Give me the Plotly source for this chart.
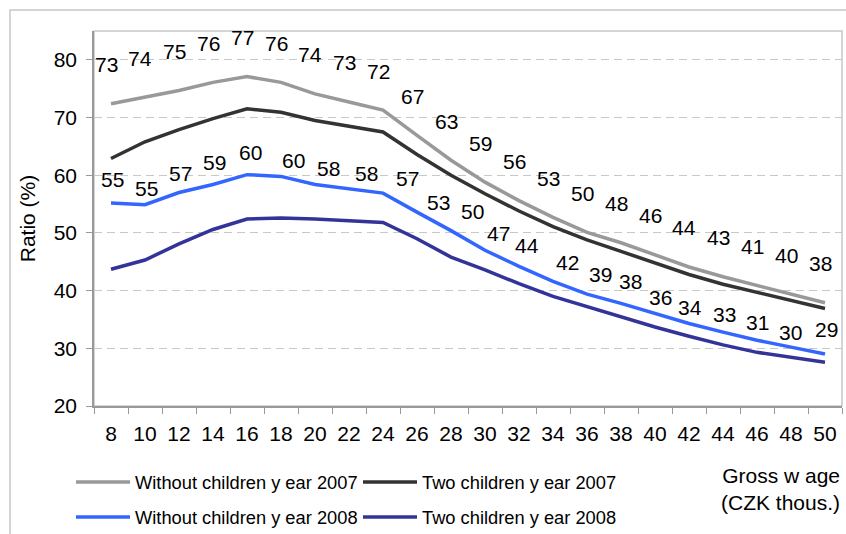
import plotly.graph_objects as go

# ---- data ----
wages = [8, 10, 12, 14, 16, 18, 20, 22, 24, 26, 28, 30, 32, 34, 36, 38, 40, 42, 44, 46, 48, 50]

no_child_2007 = [72.4, 73.5, 74.7, 76.1, 77.1, 76.1, 74.1, 72.7, 71.3, 66.9, 62.6, 58.8,
                 55.6, 52.7, 50.1, 48.3, 46.2, 44.1, 42.4, 40.9, 39.3, 37.9]
two_child_2007 = [62.9, 65.8, 67.9, 69.8, 71.5, 70.9, 69.5, 68.5, 67.5, 63.6, 60.0, 56.8,
                  53.8, 51.1, 48.8, 46.8, 44.8, 42.8, 41.1, 39.7, 38.3, 36.9]
no_child_2008 = [55.2, 54.9, 57.0, 58.4, 60.1, 59.8, 58.4, 57.7, 56.9, 53.6, 50.4, 47.0,
                 44.2, 41.6, 39.4, 37.8, 36.1, 34.3, 32.8, 31.4, 30.2, 29.0]
two_child_2008 = [43.7, 45.3, 48.1, 50.6, 52.4, 52.6, 52.4, 52.1, 51.8, 49.0, 45.8, 43.6,
                  41.2, 39.0, 37.2, 35.5, 33.7, 32.1, 30.6, 29.3, 28.4, 27.6]

labels_no_child_2007 = [73, 74, 75, 76, 77, 76, 74, 73, 72, 67, 63, 59, 56, 53, 50, 48, 46, 44, 43, 41, 40, 38]
labels_no_child_2008 = [55, 55, 57, 59, 60, 60, 58, 58, 57, 53, 50, 47, 44, 42, 39, 38, 36, 34, 33, 31, 30, 29]

# label placement offsets (px) for the 2008 labels
lab08_dx = [1, 1, 1, 1, 3, 12, 13, 17, 24, 21, 21, 13, 8, 14, 13, 9, 5, 1, 1, 0, -1, 1]
lab08_dy = [22, 15, 18, 21, 21, 15, 15, 14, 14, 9, 18, 16, 20, 18, 19, 21, 15, 15, 17, 17, 14, 24]

names = ["Without children y ear 2007", "Two children y ear 2007",
         "Without children y ear 2008", "Two children y ear 2008"]
colors = ["#999999", "#333333", "#3366FF", "#333399"]

FONT = "Arial, 'Liberation Sans', sans-serif"
cats = [str(w) for w in wages]

fig = go.Figure()
series = [no_child_2007, two_child_2007, no_child_2008, two_child_2008]
legends = ["legend", "legend", "legend2", "legend2"]
for s, n, c, lg in zip(series, names, colors, legends):
    fig.add_trace(go.Scatter(x=cats, y=s, mode="lines", name=n,
                             line=dict(color=c, width=3.5), legend=lg))

ann = []
for i, (v, t) in enumerate(zip(no_child_2007, labels_no_child_2007)):
    ann.append(dict(x=i, y=v, text=str(t), showarrow=False, xshift=-5, yshift=39,
                    font=dict(size=21, color="black", family=FONT)))
for i, (v, t, dx, dy) in enumerate(zip(no_child_2008, labels_no_child_2008, lab08_dx, lab08_dy)):
    ann.append(dict(x=i, y=v, text=str(t), showarrow=False, xshift=dx, yshift=dy + 1,
                    font=dict(size=21, color="black", family=FONT)))

W, H = 846, 534
L, R, T, B = 94, 4, 31, 128
pw, ph = W - L - R, H - T - B

def px(xp):
    return (xp - L) / pw

def py(yp):
    return (H - B - yp) / ph

ann.append(dict(xref="paper", yref="paper", x=px(842), y=py(489), xanchor="right",
                yanchor="middle", align="right", showarrow=False,
                text="Gross w age<br>(CZK thous.)",
                font=dict(size=21, color="black", family=FONT)))

shapes = [
    dict(type="rect", xref="paper", yref="paper", x0=px(10), x1=px(860), y0=py(545), y1=py(10),
         line=dict(color="#c8c8c8", width=1.5), layer="below"),
    dict(type="rect", xref="paper", yref="paper", x0=0, x1=1, y0=0, y1=1,
         line=dict(color="#c8c8c8", width=1.5), layer="below"),
]

leg_common = dict(orientation="h", xanchor="left", yanchor="middle",
                  font=dict(size=18.3, family=FONT), itemwidth=54, entrywidth=218,
                  bgcolor="rgba(0,0,0,0)", tracegroupgap=0)

fig.update_layout(
    width=W, height=H,
    margin=dict(l=L, r=R, t=T, b=B, autoexpand=False),
    paper_bgcolor="white", plot_bgcolor="white",
    font=dict(family=FONT, color="black"),
    annotations=ann, shapes=shapes,
    legend=dict(x=px(71), y=py(482), **leg_common),
    legend2=dict(x=px(71), y=py(517), **leg_common),
    xaxis=dict(type="category", categoryorder="array", categoryarray=cats,
               range=[-0.5, len(cats) - 0.5], autorange=False,
               tickson="boundaries", ticks="outside", ticklen=6, tickcolor="#999999",
               showgrid=False, showline=True, linecolor="#999999", linewidth=1.5,
               tickfont=dict(size=21, family=FONT), ticklabelstandoff=8, automargin=False,
               tickangle=0),
    yaxis=dict(range=[20, 85], autorange=False, dtick=10, tick0=20, ticks="outside", ticklen=6,
               tickcolor="#999999", showline=True, linecolor="#999999", linewidth=1.5,
               showgrid=True, gridcolor="#c8c8c8", griddash="8px,5px", gridwidth=1,
               zeroline=False, tickfont=dict(size=21, family=FONT), ticklabelstandoff=5,
               title=dict(text="Ratio (%)", font=dict(size=21, family=FONT), standoff=12),
               automargin=False),
)

fig.write_html("out.html", config={"displayModeBar": False},
               post_script="document.body.style.margin='0';")
